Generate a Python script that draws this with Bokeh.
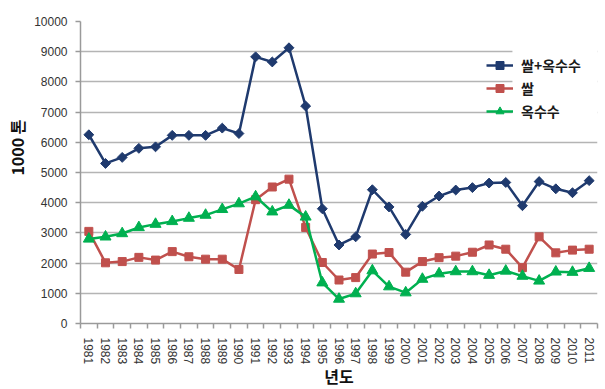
import math
from bokeh.plotting import figure
from bokeh.models import (FixedTicker, BoxAnnotation, Legend, LegendItem, Range1d, Title)
from bokeh.embed import file_html
from bokeh.resources import INLINE

years = list(range(1981, 2012))
rice_corn = [6250, 5300, 5500, 5800, 5850, 6230, 6230, 6230, 6470, 6290,
             8830, 8660, 9130, 7200, 3800, 2600, 2870, 4430, 3860, 2950,
             3880, 4220, 4420, 4500, 4650, 4670, 3900, 4700, 4460, 4330, 4730]
rice = [3050, 2010, 2050, 2190, 2100, 2380, 2210, 2130, 2130, 1790,
        4100, 4520, 4780, 3180, 2020, 1440, 1520, 2300, 2350, 1700,
        2050, 2180, 2230, 2360, 2600, 2460, 1850, 2870, 2340, 2430, 2460]
corn = [2800, 2870, 2980, 3180, 3290, 3380, 3490, 3590, 3780, 3970,
        4200, 3700, 3920, 3530, 1350, 810, 990, 1750, 1220, 1020,
        1470, 1650, 1720, 1720, 1600, 1740, 1570, 1410, 1710, 1700, 1830]
y_ticks = list(range(0, 10001, 1000))
series_names = ["쌀+옥수수", "쌀", "옥수수"]
y_title = "1000 톤"
x_title = "년도"

BLUE = "#1f3a6e"
RED = "#c0504d"
GREEN = "#00b050"

p = figure(width=605, height=389, output_backend="svg", toolbar_location=None,
           x_range=Range1d(years[0] - 0.5, years[-1] + 0.5),
           y_range=Range1d(0, 10000),
           min_border_left=80, min_border_right=8, min_border_top=21,
           min_border_bottom=66)
p.outline_line_color = None
p.background_fill_color = "white"
p.border_fill_color = "white"

# grid
p.xgrid.grid_line_color = None
p.ygrid.grid_line_color = "#b4b4b4"
p.ygrid.grid_line_width = 1.6

# white box behind legend (covers gridlines)
box = BoxAnnotation(left=2006.4, bottom=6500, top=9500, fill_color="white",
                    fill_alpha=1.0, line_color=None, level="underlay")
p.add_layout(box)

# y axis
p.yaxis.ticker = FixedTicker(ticks=y_ticks)
p.yaxis.axis_line_color = "#9a9a9a"
p.yaxis.axis_line_width = 1.5
p.yaxis.major_tick_line_color = "#9a9a9a"
p.yaxis.major_tick_line_width = 1.5
p.yaxis.major_tick_out = 5
p.yaxis.major_tick_in = 0
p.yaxis.minor_tick_line_color = None
p.yaxis.major_label_standoff = 8
p.yaxis.major_label_text_font = "Liberation Sans"
p.yaxis.major_label_text_font_size = "12px"
p.yaxis.major_label_text_color = "#333333"

# x axis
p.xaxis.ticker = FixedTicker(ticks=years, minor_ticks=[y - 0.5 for y in years] + [years[-1] + 0.5])
p.xaxis.major_label_overrides = {y: str(y) for y in years}
p.xaxis.axis_line_color = "#9a9a9a"
p.xaxis.axis_line_width = 1.5
p.xaxis.major_tick_line_color = None
p.xaxis.major_tick_out = 0
p.xaxis.major_tick_in = 0
p.xaxis.minor_tick_line_color = "#9a9a9a"
p.xaxis.minor_tick_line_width = 1.5
p.xaxis.minor_tick_out = 5
p.xaxis.minor_tick_in = 0
p.xaxis.major_label_orientation = "vertical"
p.xaxis.major_label_standoff = 9
p.xaxis.major_label_text_font = "Liberation Sans"
p.xaxis.major_label_text_font_size = "12px"
p.xaxis.major_label_text_color = "#333333"

# series
l1 = p.line(years, rice_corn, line_color=BLUE, line_width=2.5)
m1 = p.scatter(years, rice_corn, marker="square", angle=math.pi / 4, size=7,
               fill_color=BLUE, line_color=BLUE)
l2 = p.line(years, rice, line_color=RED, line_width=2.5)
m2 = p.scatter(years, rice, marker="square", size=8, fill_color=RED, line_color=RED)
l3 = p.line(years, corn, line_color=GREEN, line_width=2.5)
m3 = p.scatter(years, corn, marker="triangle", size=11, fill_color=GREEN, line_color=GREEN)

legend = Legend(items=[LegendItem(label=series_names[0], renderers=[l1, m1]),
                       LegendItem(label=series_names[1], renderers=[l2, m2]),
                       LegendItem(label=series_names[2], renderers=[l3, m3])],
                location=(406, 202), orientation="vertical",
                padding=0, margin=0, spacing=3,
                glyph_width=27, glyph_height=20, label_height=20,
                label_standoff=8, border_line_color=None,
                background_fill_alpha=0.0,
                label_text_font="Noto Sans CJK KR", label_text_font_size="14px",
                label_text_font_style="bold", label_text_color="#1a1a1a")
p.add_layout(legend)

# axis titles
ytitle = Title(text=y_title, align="right", offset=98, vertical_align="middle",
               text_font="Noto Sans CJK KR", text_font_size="16px",
               text_font_style="bold", text_color="#111111", standoff=4)
p.add_layout(ytitle, "left")
xtitle = Title(text=x_title, align="center", vertical_align="middle",
               text_font="Liberation Sans, Noto Sans CJK KR", text_font_size="16px",
               text_font_style="bold", text_color="#111111", standoff=0)
p.add_layout(xtitle, "below")

open("out.html", "w").write(file_html(p, INLINE))
